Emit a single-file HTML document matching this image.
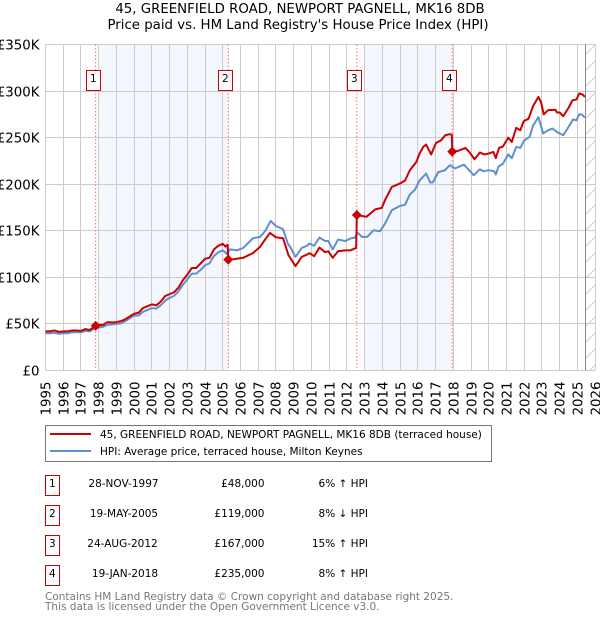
<!DOCTYPE html>
<html lang="en">
<head>
<meta charset="utf-8">
<title>45, Greenfield Road price chart</title>
<style>
html,body{margin:0;padding:0;background:#fff;width:600px;height:620px;overflow:hidden}
svg{display:block}
text{font-family:"DejaVu Sans","Liberation Sans",sans-serif;fill:#000}
</style>
</head>
<body>
<svg id="chart" xmlns="http://www.w3.org/2000/svg" width="600" height="620" viewBox="0 0 600 620">
  <defs>
    <pattern id="hatch" patternUnits="userSpaceOnUse" width="16" height="16">
      <path d="M-1 17L17 -1" stroke="#ccc" stroke-width="1" fill="none"/>
    </pattern>
  </defs>
  <text x="300" y="13" text-anchor="middle" font-size="13.33">45, GREENFIELD ROAD, NEWPORT PAGNELL, MK16 8DB</text>
  <text x="298" y="29" text-anchor="middle" font-size="13.33">Price paid vs. HM Land Registry's House Price Index (HPI)</text>
  <g id="bands"></g>
  <rect x="585.5" y="44.5" width="9.5" height="326" fill="url(#hatch)"/>
  <g id="grid"></g>
  <line x1="585.5" x2="585.5" y1="44.5" y2="370.5" stroke="#888" stroke-width="1"/>
  <g id="sale-lines"></g>
  <g id="series"></g>
  <g id="sale-marks"></g>
  <g id="axis-labels"></g>

  <g>
    <rect x="45.5" y="425.5" width="446" height="36" fill="#fff" stroke="#777" stroke-width="1"/>
    <line x1="50" x2="91" y1="434" y2="434" stroke="#c00" stroke-width="2"/>
    <text x="100" y="438" font-size="10.5">45, GREENFIELD ROAD, NEWPORT PAGNELL, MK16 8DB (terraced house)</text>
    <line x1="50" x2="91" y1="451" y2="451" stroke="#5f8fd0" stroke-width="2"/>
    <text x="100" y="455" font-size="10.5">HPI: Average price, terraced house, Milton Keynes</text>
  </g>

  <g font-size="10.5">
    <rect x="45.5" y="475.5" width="14" height="20" fill="#fff" stroke="#c00"/>
    <text x="52.3" y="487" text-anchor="middle" font-size="10.5">1</text>
    <text x="123.5" y="487" text-anchor="middle" font-size="10.5">28-NOV-1997</text>
    <text x="264.5" y="487" text-anchor="end" font-size="10.5">£48,000</text>
    <text x="368" y="487" text-anchor="end" font-size="10.5">6% ↑ HPI</text>

    <rect x="45.5" y="505.5" width="14" height="20" fill="#fff" stroke="#c00"/>
    <text x="52.3" y="517" text-anchor="middle" font-size="10.5">2</text>
    <text x="124" y="517" text-anchor="middle" font-size="10.5">19-MAY-2005</text>
    <text x="264.5" y="517" text-anchor="end" font-size="10.5">£119,000</text>
    <text x="368" y="517" text-anchor="end" font-size="10.5">8% ↓ HPI</text>

    <rect x="45.5" y="535.5" width="14" height="20" fill="#fff" stroke="#c00"/>
    <text x="52.3" y="547" text-anchor="middle" font-size="10.5">3</text>
    <text x="122.5" y="547" text-anchor="middle" font-size="10.5">24-AUG-2012</text>
    <text x="264.5" y="547" text-anchor="end" font-size="10.5">£167,000</text>
    <text x="368" y="547" text-anchor="end" font-size="10.5">15% ↑ HPI</text>

    <rect x="45.5" y="565.5" width="14" height="20" fill="#fff" stroke="#c00"/>
    <text x="52.3" y="577" text-anchor="middle" font-size="10.5">4</text>
    <text x="125" y="577" text-anchor="middle" font-size="10.5">19-JAN-2018</text>
    <text x="264.5" y="577" text-anchor="end" font-size="10.5">£235,000</text>
    <text x="368" y="577" text-anchor="end" font-size="10.5">8% ↑ HPI</text>
  </g>

  <text x="45" y="600" font-size="10.5" style="fill:#777">Contains HM Land Registry data © Crown copyright and database right 2025.</text>
  <text x="45" y="610" font-size="10.5" style="fill:#777">This data is licensed under the Open Government Licence v3.0.</text>
</svg>
<script>
const xTickYears = [1995,1996,1997,1998,1999,2000,2001,2002,2003,2004,2005,2006,2007,2008,2009,2010,2011,2012,2013,2014,2015,2016,2017,2018,2019,2020,2021,2022,2023,2024,2025,2026];
const yTickValues = [0,50,100,150,200,250,300,350];
const yTickLabels = ['£0','£50K','£100K','£150K','£200K','£250K','£300K','£350K'];
const bandStarts = [1998,2013];
const bandEnds = [2005.31,2017.94];
const saleYears = [1997.83,2005.31,2012.56,2017.94];
const salePrices = [48,119,167,235];
const saleLabels = ['1','2','3','4'];
const hpiYears = [1995,1995.25,1995.5,1995.75,1996,1996.25,1996.5,1996.75,1997,1997.25,1997.5,1997.75,1998,1998.25,1998.5,1998.75,1999,1999.25,1999.5,1999.75,2000,2000.25,2000.5,2000.75,2001,2001.25,2001.5,2001.75,2002,2002.25,2002.5,2002.75,2003,2003.25,2003.5,2003.75,2004,2004.25,2004.5,2004.75,2005,2005.25,2005.4,2005.8,2006.15,2006.7,2007.1,2007.4,2007.7,2008,2008.4,2008.67,2008.8,2009.1,2009.45,2009.73,2009.9,2010.15,2010.45,2010.77,2010.95,2011.2,2011.5,2011.9,2012.2,2012.45,2012.6,2012.85,2013.15,2013.5,2013.87,2014.15,2014.53,2015,2015.28,2015.55,2015.83,2016.1,2016.47,2016.7,2016.85,2017.15,2017.53,2017.8,2018.1,2018.6,2018.85,2019.15,2019.5,2019.7,2020,2020.3,2020.4,2020.55,2020.8,2021.1,2021.3,2021.55,2021.78,2022,2022.3,2022.5,2022.8,2023.07,2023.35,2023.6,2023.85,2024.2,2024.5,2024.75,2024.95,2025.1,2025.25,2025.42];
const hpiValues = [40,40,40.5,39.5,40,40,41,41,41,42.5,42,45,46,47,49,49.5,50,50.5,53,56,59,59,63,65,67,66.5,70,75,78,80,85,92,98,104,104,108,113,115,123,127,129,125,130,129,131.6,142,143.4,150,160.6,155,151.7,136,132.7,122,131.6,133.8,136.3,133.8,142.8,139,139,130,140.6,139,141.7,142.8,148,143.5,143.5,150.6,149.5,157.8,172,176.7,178,189,194,204,211.5,201.8,202,213,215,220.4,217,221,216,209.7,216,214,215,214,210.4,219,222,232,228,240,239,247,250.8,263,272,254.4,258,259.8,256,252.6,261.5,269.5,268.7,275,274.8,271.6];
const priceYears = [1995,1995.25,1995.5,1995.75,1996,1996.25,1996.5,1996.75,1997,1997.25,1997.5,1997.75,1997.83,1998,1998.25,1998.5,1998.75,1999,1999.25,1999.5,1999.75,2000,2000.25,2000.5,2000.75,2001,2001.25,2001.5,2001.75,2002,2002.25,2002.5,2002.75,2003,2003.25,2003.5,2003.75,2004,2004.25,2004.5,2004.75,2005,2005.15,2005.27,2005.31,2005.6,2006.15,2006.7,2007.1,2007.4,2007.66,2008,2008.4,2008.7,2009.1,2009.2,2009.45,2009.75,2009.9,2010.15,2010.45,2010.77,2010.95,2011.2,2011.5,2011.9,2012.2,2012.52,2012.56,2013.1,2013.6,2013.97,2014.15,2014.53,2015,2015.28,2015.55,2015.92,2016.1,2016.3,2016.47,2016.75,2017.03,2017.3,2017.55,2017.8,2017.92,2017.94,2018.27,2018.68,2018.9,2019.2,2019.5,2019.75,2020,2020.26,2020.4,2020.58,2020.8,2021.1,2021.3,2021.55,2021.78,2021.97,2022.25,2022.5,2022.8,2022.95,2023.1,2023.35,2023.75,2023.85,2024,2024.2,2024.5,2024.72,2024.95,2025.1,2025.3,2025.42];
const priceValues = [42,42,43,41.5,42,42,43,43,42.5,44.5,43.5,47,48,49,49,52,51.5,52,53,55,58,61,62,67,69,71,70,74,80,82,84,89,97,103,110,110,115,120,121,130,134,136,133,135,119,119.5,121,126,132.7,141,147.7,143,142,124,112,115,122,124.5,126,122.7,132,127,128,121,128,129,129,131.6,167,165,173,174.6,183,197,200.8,204,215,224,233,240,242.6,232,244.4,247,252.6,253.7,253,235,235.8,239,234.7,226.8,234,232,233,234.7,228,239,240.5,250,245.4,260.5,258,267.6,270.5,284,293.7,288,275,279.5,280,277,277,273,282,290,291,297.4,296.3,293.7];

const NS = 'http://www.w3.org/2000/svg';
const xScale = year => 45.5 + (year - 1995) * 17.73;
const yScale = value => 370.5 - value * 0.9314;
const snap = p => Math.floor(p) + 0.5;
function mk(parent, tag, attrs, text) {
  const el = document.createElementNS(NS, tag);
  for (const k in attrs) el.setAttribute(k, attrs[k]);
  if (text !== undefined) el.textContent = text;
  document.getElementById(parent).appendChild(el);
  return el;
}
function linePath(xs, ys) {
  return xs.map((v, i) => (i ? 'L' : 'M') + xScale(v).toFixed(2) + ' ' + yScale(ys[i]).toFixed(2)).join('');
}

bandStarts.forEach((start, i) => {
  const band = mk('bands', 'rect', {x: xScale(start), y: 44.5, width: xScale(bandEnds[i]) - xScale(start), height: 326, fill: '#f4f7fe'});
  
  
});

yTickValues.forEach((value, i) => {
  const y = snap(yScale(value));
  const gridY = mk('grid', 'line', {x1: 45.5, x2: 595, y1: y, y2: y, stroke: '#ccc', 'stroke-width': 1});
  
  
  const label = mk('axis-labels', 'text', {x: 39.5, y: y + 5, 'text-anchor': 'end', 'font-size': 13.33}, yTickLabels[i]);
  
  
});

xTickYears.forEach(year => {
  const x = snap(xScale(year));
  const gridX = mk('grid', 'line', {x1: x, x2: x, y1: 44.5, y2: 370.5, stroke: '#ccc', 'stroke-width': 1});
  
  
  const label = mk('axis-labels', 'text', {x: 0, y: 0, 'text-anchor': 'end', 'font-size': 13.33, transform: 'translate(' + (x + 4.8) + ' 381.5) rotate(-90)'}, String(year));
  
  
});

saleYears.forEach((year, i) => {
  const x = xScale(year);
  const vline = mk('sale-lines', 'line', {x1: x, x2: x, y1: 44.5, y2: 370.5, stroke: '#f66', 'stroke-width': 1, 'stroke-dasharray': '1.5 2'});
  
  
});

const hpiLine = mk('series', 'path', {d: linePath(hpiYears, hpiValues), fill: 'none', stroke: '#5f8fd0', 'stroke-width': 2, 'stroke-linejoin': 'round'});


const priceLine = mk('series', 'path', {d: linePath(priceYears, priceValues), fill: 'none', stroke: '#c00', 'stroke-width': 2, 'stroke-linejoin': 'round'});



saleYears.forEach((year, i) => {
  const px = xScale(year);
  const py = yScale(salePrices[i]);
  const marker = mk('sale-marks', 'polygon', {points: [px - 5, py, px, py - 5, px + 5, py, px, py + 5].join(' '), fill: '#c00'});
  
  
  const badge = mk('sale-marks', 'rect', {x: Math.round(px - 10) + 0.5, y: 70.5, width: 14, height: 20, fill: '#fff', stroke: '#c00', 'stroke-width': 1});
  
  
  const num = mk('sale-marks', 'text', {x: Math.round(px - 10) + 7.3, y: 82, 'text-anchor': 'middle', 'font-size': 10.5}, saleLabels[i]);
  
  
});
</script>
</body>
</html>
